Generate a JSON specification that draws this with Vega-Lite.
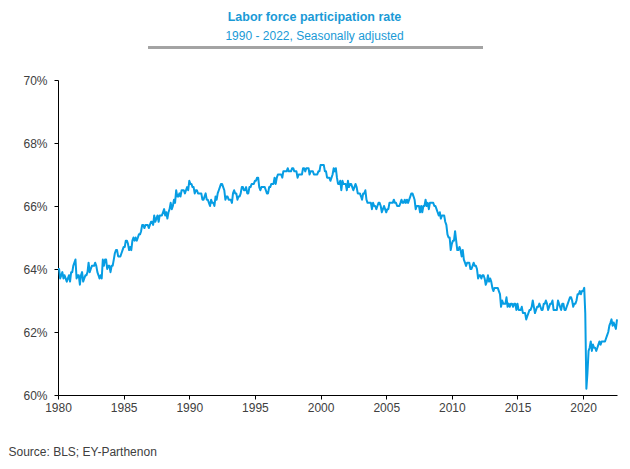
{
"$schema": "https://vega.github.io/schema/vega-lite/v6.json",
"autosize": {"type": "none"},
"width": 559,
"height": 315,
"padding": {"left": 58, "top": 80, "right": 13, "bottom": 74},
"background": "white",
"config": {"font": "Liberation Sans", "view": {"stroke": null}},
"title": {
  "text": "Labor force participation rate",
  "subtitle": "1990 - 2022, Seasonally adjusted",
  "anchor": "middle",
  "frame": "group",
  "dx": -23,
  "offset": 5,
  "fontSize": 12.5,
  "fontWeight": "bold",
  "color": "#1a9ad6",
  "subtitleFontSize": 12,
  "subtitleColor": "#1a9ad6",
  "subtitlePadding": 7
},
"data": {
  "format": {"parse": {"d": "utc:'%Y-%m'"}},
  "values": [
{"d":"1980-01","v":64.0},{"d":"1980-02","v":64.0},{"d":"1980-03","v":63.7},{"d":"1980-04","v":63.8},{"d":"1980-05","v":63.9},{"d":"1980-06","v":63.7},{"d":"1980-07","v":63.8},{"d":"1980-08","v":63.7},{"d":"1980-09","v":63.6},{"d":"1980-10","v":63.7},{"d":"1980-11","v":63.8},{"d":"1980-12","v":63.6},
{"d":"1981-01","v":63.9},{"d":"1981-02","v":63.9},{"d":"1981-03","v":64.1},{"d":"1981-04","v":64.2},{"d":"1981-05","v":64.3},{"d":"1981-06","v":63.7},{"d":"1981-07","v":63.8},{"d":"1981-08","v":63.8},{"d":"1981-09","v":63.5},{"d":"1981-10","v":63.8},{"d":"1981-11","v":63.9},{"d":"1981-12","v":63.6},
{"d":"1982-01","v":63.7},{"d":"1982-02","v":63.8},{"d":"1982-03","v":63.8},{"d":"1982-04","v":63.9},{"d":"1982-05","v":64.2},{"d":"1982-06","v":63.9},{"d":"1982-07","v":64.0},{"d":"1982-08","v":64.1},{"d":"1982-09","v":64.1},{"d":"1982-10","v":64.1},{"d":"1982-11","v":64.2},{"d":"1982-12","v":64.1},
{"d":"1983-01","v":63.9},{"d":"1983-02","v":63.8},{"d":"1983-03","v":63.7},{"d":"1983-04","v":63.8},{"d":"1983-05","v":63.7},{"d":"1983-06","v":64.3},{"d":"1983-07","v":64.1},{"d":"1983-08","v":64.3},{"d":"1983-09","v":64.3},{"d":"1983-10","v":64.0},{"d":"1983-11","v":64.1},{"d":"1983-12","v":64.1},
{"d":"1984-01","v":63.9},{"d":"1984-02","v":64.1},{"d":"1984-03","v":64.1},{"d":"1984-04","v":64.3},{"d":"1984-05","v":64.5},{"d":"1984-06","v":64.6},{"d":"1984-07","v":64.6},{"d":"1984-08","v":64.4},{"d":"1984-09","v":64.4},{"d":"1984-10","v":64.4},{"d":"1984-11","v":64.5},{"d":"1984-12","v":64.6},
{"d":"1985-01","v":64.7},{"d":"1985-02","v":64.7},{"d":"1985-03","v":64.9},{"d":"1985-04","v":64.9},{"d":"1985-05","v":64.8},{"d":"1985-06","v":64.6},{"d":"1985-07","v":64.7},{"d":"1985-08","v":64.6},{"d":"1985-09","v":64.9},{"d":"1985-10","v":65.0},{"d":"1985-11","v":64.9},{"d":"1985-12","v":65.0},
{"d":"1986-01","v":64.9},{"d":"1986-02","v":65.0},{"d":"1986-03","v":65.1},{"d":"1986-04","v":65.1},{"d":"1986-05","v":65.2},{"d":"1986-06","v":65.4},{"d":"1986-07","v":65.4},{"d":"1986-08","v":65.3},{"d":"1986-09","v":65.4},{"d":"1986-10","v":65.4},{"d":"1986-11","v":65.4},{"d":"1986-12","v":65.3},
{"d":"1987-01","v":65.4},{"d":"1987-02","v":65.5},{"d":"1987-03","v":65.5},{"d":"1987-04","v":65.4},{"d":"1987-05","v":65.7},{"d":"1987-06","v":65.5},{"d":"1987-07","v":65.6},{"d":"1987-08","v":65.7},{"d":"1987-09","v":65.5},{"d":"1987-10","v":65.7},{"d":"1987-11","v":65.7},{"d":"1987-12","v":65.7},
{"d":"1988-01","v":65.8},{"d":"1988-02","v":65.9},{"d":"1988-03","v":65.7},{"d":"1988-04","v":65.8},{"d":"1988-05","v":65.6},{"d":"1988-06","v":65.8},{"d":"1988-07","v":65.9},{"d":"1988-08","v":66.1},{"d":"1988-09","v":65.9},{"d":"1988-10","v":66.0},{"d":"1988-11","v":66.2},{"d":"1988-12","v":66.1},
{"d":"1989-01","v":66.5},{"d":"1989-02","v":66.3},{"d":"1989-03","v":66.3},{"d":"1989-04","v":66.4},{"d":"1989-05","v":66.3},{"d":"1989-06","v":66.5},{"d":"1989-07","v":66.5},{"d":"1989-08","v":66.5},{"d":"1989-09","v":66.4},{"d":"1989-10","v":66.5},{"d":"1989-11","v":66.6},{"d":"1989-12","v":66.5},
{"d":"1990-01","v":66.8},{"d":"1990-02","v":66.7},{"d":"1990-03","v":66.7},{"d":"1990-04","v":66.6},{"d":"1990-05","v":66.6},{"d":"1990-06","v":66.4},{"d":"1990-07","v":66.5},{"d":"1990-08","v":66.5},{"d":"1990-09","v":66.4},{"d":"1990-10","v":66.4},{"d":"1990-11","v":66.4},{"d":"1990-12","v":66.4},
{"d":"1991-01","v":66.2},{"d":"1991-02","v":66.2},{"d":"1991-03","v":66.3},{"d":"1991-04","v":66.4},{"d":"1991-05","v":66.2},{"d":"1991-06","v":66.2},{"d":"1991-07","v":66.1},{"d":"1991-08","v":66.0},{"d":"1991-09","v":66.2},{"d":"1991-10","v":66.1},{"d":"1991-11","v":66.1},{"d":"1991-12","v":66.0},
{"d":"1992-01","v":66.3},{"d":"1992-02","v":66.2},{"d":"1992-03","v":66.4},{"d":"1992-04","v":66.5},{"d":"1992-05","v":66.6},{"d":"1992-06","v":66.7},{"d":"1992-07","v":66.7},{"d":"1992-08","v":66.6},{"d":"1992-09","v":66.5},{"d":"1992-10","v":66.2},{"d":"1992-11","v":66.3},{"d":"1992-12","v":66.3},
{"d":"1993-01","v":66.2},{"d":"1993-02","v":66.2},{"d":"1993-03","v":66.2},{"d":"1993-04","v":66.1},{"d":"1993-05","v":66.4},{"d":"1993-06","v":66.5},{"d":"1993-07","v":66.4},{"d":"1993-08","v":66.4},{"d":"1993-09","v":66.2},{"d":"1993-10","v":66.3},{"d":"1993-11","v":66.3},{"d":"1993-12","v":66.4},
{"d":"1994-01","v":66.6},{"d":"1994-02","v":66.6},{"d":"1994-03","v":66.5},{"d":"1994-04","v":66.5},{"d":"1994-05","v":66.6},{"d":"1994-06","v":66.4},{"d":"1994-07","v":66.4},{"d":"1994-08","v":66.6},{"d":"1994-09","v":66.6},{"d":"1994-10","v":66.7},{"d":"1994-11","v":66.7},{"d":"1994-12","v":66.7},
{"d":"1995-01","v":66.8},{"d":"1995-02","v":66.8},{"d":"1995-03","v":66.9},{"d":"1995-04","v":66.9},{"d":"1995-05","v":66.6},{"d":"1995-06","v":66.5},{"d":"1995-07","v":66.6},{"d":"1995-08","v":66.6},{"d":"1995-09","v":66.6},{"d":"1995-10","v":66.6},{"d":"1995-11","v":66.5},{"d":"1995-12","v":66.4},
{"d":"1996-01","v":66.4},{"d":"1996-02","v":66.6},{"d":"1996-03","v":66.6},{"d":"1996-04","v":66.7},{"d":"1996-05","v":66.7},{"d":"1996-06","v":66.7},{"d":"1996-07","v":66.9},{"d":"1996-08","v":66.7},{"d":"1996-09","v":66.9},{"d":"1996-10","v":67.0},{"d":"1996-11","v":67.0},{"d":"1996-12","v":67.0},
{"d":"1997-01","v":67.0},{"d":"1997-02","v":66.9},{"d":"1997-03","v":67.1},{"d":"1997-04","v":67.1},{"d":"1997-05","v":67.1},{"d":"1997-06","v":67.1},{"d":"1997-07","v":67.2},{"d":"1997-08","v":67.1},{"d":"1997-09","v":67.1},{"d":"1997-10","v":67.1},{"d":"1997-11","v":67.2},{"d":"1997-12","v":67.2},
{"d":"1998-01","v":67.1},{"d":"1998-02","v":67.1},{"d":"1998-03","v":67.1},{"d":"1998-04","v":66.9},{"d":"1998-05","v":67.0},{"d":"1998-06","v":67.0},{"d":"1998-07","v":67.0},{"d":"1998-08","v":67.0},{"d":"1998-09","v":67.2},{"d":"1998-10","v":67.2},{"d":"1998-11","v":67.1},{"d":"1998-12","v":67.2},
{"d":"1999-01","v":67.2},{"d":"1999-02","v":67.2},{"d":"1999-03","v":67.0},{"d":"1999-04","v":67.1},{"d":"1999-05","v":67.1},{"d":"1999-06","v":67.1},{"d":"1999-07","v":67.0},{"d":"1999-08","v":67.0},{"d":"1999-09","v":67.0},{"d":"1999-10","v":67.0},{"d":"1999-11","v":67.1},{"d":"1999-12","v":67.1},
{"d":"2000-01","v":67.3},{"d":"2000-02","v":67.3},{"d":"2000-03","v":67.3},{"d":"2000-04","v":67.3},{"d":"2000-05","v":67.1},{"d":"2000-06","v":67.1},{"d":"2000-07","v":66.9},{"d":"2000-08","v":66.9},{"d":"2000-09","v":66.9},{"d":"2000-10","v":66.8},{"d":"2000-11","v":66.9},{"d":"2000-12","v":67.0},
{"d":"2001-01","v":67.2},{"d":"2001-02","v":67.1},{"d":"2001-03","v":67.2},{"d":"2001-04","v":66.9},{"d":"2001-05","v":66.7},{"d":"2001-06","v":66.7},{"d":"2001-07","v":66.8},{"d":"2001-08","v":66.5},{"d":"2001-09","v":66.8},{"d":"2001-10","v":66.7},{"d":"2001-11","v":66.7},{"d":"2001-12","v":66.7},
{"d":"2002-01","v":66.5},{"d":"2002-02","v":66.8},{"d":"2002-03","v":66.6},{"d":"2002-04","v":66.7},{"d":"2002-05","v":66.7},{"d":"2002-06","v":66.6},{"d":"2002-07","v":66.5},{"d":"2002-08","v":66.6},{"d":"2002-09","v":66.7},{"d":"2002-10","v":66.6},{"d":"2002-11","v":66.4},{"d":"2002-12","v":66.4},
{"d":"2003-01","v":66.4},{"d":"2003-02","v":66.3},{"d":"2003-03","v":66.2},{"d":"2003-04","v":66.4},{"d":"2003-05","v":66.4},{"d":"2003-06","v":66.5},{"d":"2003-07","v":66.2},{"d":"2003-08","v":66.1},{"d":"2003-09","v":66.1},{"d":"2003-10","v":66.1},{"d":"2003-11","v":66.1},{"d":"2003-12","v":65.9},
{"d":"2004-01","v":66.1},{"d":"2004-02","v":66.0},{"d":"2004-03","v":66.0},{"d":"2004-04","v":65.9},{"d":"2004-05","v":66.0},{"d":"2004-06","v":66.1},{"d":"2004-07","v":66.1},{"d":"2004-08","v":66.0},{"d":"2004-09","v":65.8},{"d":"2004-10","v":65.9},{"d":"2004-11","v":66.0},{"d":"2004-12","v":65.9},
{"d":"2005-01","v":65.8},{"d":"2005-02","v":65.9},{"d":"2005-03","v":65.9},{"d":"2005-04","v":66.1},{"d":"2005-05","v":66.1},{"d":"2005-06","v":66.1},{"d":"2005-07","v":66.1},{"d":"2005-08","v":66.2},{"d":"2005-09","v":66.1},{"d":"2005-10","v":66.1},{"d":"2005-11","v":66.0},{"d":"2005-12","v":66.0},
{"d":"2006-01","v":66.0},{"d":"2006-02","v":66.1},{"d":"2006-03","v":66.2},{"d":"2006-04","v":66.1},{"d":"2006-05","v":66.1},{"d":"2006-06","v":66.2},{"d":"2006-07","v":66.1},{"d":"2006-08","v":66.2},{"d":"2006-09","v":66.1},{"d":"2006-10","v":66.2},{"d":"2006-11","v":66.3},{"d":"2006-12","v":66.4},
{"d":"2007-01","v":66.4},{"d":"2007-02","v":66.3},{"d":"2007-03","v":66.2},{"d":"2007-04","v":65.9},{"d":"2007-05","v":66.0},{"d":"2007-06","v":66.0},{"d":"2007-07","v":66.0},{"d":"2007-08","v":65.8},{"d":"2007-09","v":66.0},{"d":"2007-10","v":65.8},{"d":"2007-11","v":66.0},{"d":"2007-12","v":66.0},
{"d":"2008-01","v":66.2},{"d":"2008-02","v":66.0},{"d":"2008-03","v":66.1},{"d":"2008-04","v":65.9},{"d":"2008-05","v":66.1},{"d":"2008-06","v":66.1},{"d":"2008-07","v":66.1},{"d":"2008-08","v":66.1},{"d":"2008-09","v":66.0},{"d":"2008-10","v":66.0},{"d":"2008-11","v":65.9},{"d":"2008-12","v":65.8},
{"d":"2009-01","v":65.7},{"d":"2009-02","v":65.8},{"d":"2009-03","v":65.6},{"d":"2009-04","v":65.7},{"d":"2009-05","v":65.7},{"d":"2009-06","v":65.7},{"d":"2009-07","v":65.5},{"d":"2009-08","v":65.4},{"d":"2009-09","v":65.1},{"d":"2009-10","v":65.0},{"d":"2009-11","v":65.0},{"d":"2009-12","v":64.6},
{"d":"2010-01","v":64.8},{"d":"2010-02","v":64.9},{"d":"2010-03","v":64.9},{"d":"2010-04","v":65.2},{"d":"2010-05","v":64.9},{"d":"2010-06","v":64.6},{"d":"2010-07","v":64.6},{"d":"2010-08","v":64.7},{"d":"2010-09","v":64.6},{"d":"2010-10","v":64.4},{"d":"2010-11","v":64.6},{"d":"2010-12","v":64.3},
{"d":"2011-01","v":64.2},{"d":"2011-02","v":64.1},{"d":"2011-03","v":64.2},{"d":"2011-04","v":64.2},{"d":"2011-05","v":64.2},{"d":"2011-06","v":64.0},{"d":"2011-07","v":64.0},{"d":"2011-08","v":64.1},{"d":"2011-09","v":64.2},{"d":"2011-10","v":64.1},{"d":"2011-11","v":64.1},{"d":"2011-12","v":64.0},
{"d":"2012-01","v":63.7},{"d":"2012-02","v":63.8},{"d":"2012-03","v":63.8},{"d":"2012-04","v":63.7},{"d":"2012-05","v":63.8},{"d":"2012-06","v":63.8},{"d":"2012-07","v":63.7},{"d":"2012-08","v":63.5},{"d":"2012-09","v":63.6},{"d":"2012-10","v":63.8},{"d":"2012-11","v":63.6},{"d":"2012-12","v":63.7},
{"d":"2013-01","v":63.6},{"d":"2013-02","v":63.4},{"d":"2013-03","v":63.3},{"d":"2013-04","v":63.4},{"d":"2013-05","v":63.4},{"d":"2013-06","v":63.4},{"d":"2013-07","v":63.4},{"d":"2013-08","v":63.3},{"d":"2013-09","v":63.2},{"d":"2013-10","v":62.8},{"d":"2013-11","v":63.0},{"d":"2013-12","v":62.9},
{"d":"2014-01","v":62.9},{"d":"2014-02","v":62.9},{"d":"2014-03","v":63.1},{"d":"2014-04","v":62.8},{"d":"2014-05","v":62.9},{"d":"2014-06","v":62.8},{"d":"2014-07","v":62.9},{"d":"2014-08","v":62.9},{"d":"2014-09","v":62.8},{"d":"2014-10","v":62.9},{"d":"2014-11","v":62.9},{"d":"2014-12","v":62.7},
{"d":"2015-01","v":62.9},{"d":"2015-02","v":62.7},{"d":"2015-03","v":62.7},{"d":"2015-04","v":62.7},{"d":"2015-05","v":62.8},{"d":"2015-06","v":62.6},{"d":"2015-07","v":62.6},{"d":"2015-08","v":62.6},{"d":"2015-09","v":62.4},{"d":"2015-10","v":62.5},{"d":"2015-11","v":62.6},{"d":"2015-12","v":62.7},
{"d":"2016-01","v":62.7},{"d":"2016-02","v":62.8},{"d":"2016-03","v":63.0},{"d":"2016-04","v":62.8},{"d":"2016-05","v":62.6},{"d":"2016-06","v":62.7},{"d":"2016-07","v":62.8},{"d":"2016-08","v":62.8},{"d":"2016-09","v":62.9},{"d":"2016-10","v":62.8},{"d":"2016-11","v":62.7},{"d":"2016-12","v":62.7},
{"d":"2017-01","v":62.9},{"d":"2017-02","v":62.9},{"d":"2017-03","v":63.0},{"d":"2017-04","v":62.9},{"d":"2017-05","v":62.7},{"d":"2017-06","v":62.8},{"d":"2017-07","v":62.9},{"d":"2017-08","v":62.9},{"d":"2017-09","v":63.0},{"d":"2017-10","v":62.7},{"d":"2017-11","v":62.7},{"d":"2017-12","v":62.7},
{"d":"2018-01","v":62.7},{"d":"2018-02","v":63.0},{"d":"2018-03","v":62.9},{"d":"2018-04","v":62.8},{"d":"2018-05","v":62.7},{"d":"2018-06","v":62.9},{"d":"2018-07","v":62.9},{"d":"2018-08","v":62.7},{"d":"2018-09","v":62.7},{"d":"2018-10","v":62.8},{"d":"2018-11","v":62.9},{"d":"2018-12","v":63.0},
{"d":"2019-01","v":63.1},{"d":"2019-02","v":63.1},{"d":"2019-03","v":63.0},{"d":"2019-04","v":62.8},{"d":"2019-05","v":62.9},{"d":"2019-06","v":62.9},{"d":"2019-07","v":63.0},{"d":"2019-08","v":63.2},{"d":"2019-09","v":63.2},{"d":"2019-10","v":63.3},{"d":"2019-11","v":63.2},{"d":"2019-12","v":63.3},
{"d":"2020-01","v":63.3},{"d":"2020-02","v":63.4},{"d":"2020-03","v":62.6},{"d":"2020-04","v":60.2},{"d":"2020-05","v":60.7},{"d":"2020-06","v":61.4},{"d":"2020-07","v":61.5},{"d":"2020-08","v":61.7},{"d":"2020-09","v":61.4},{"d":"2020-10","v":61.6},{"d":"2020-11","v":61.5},{"d":"2020-12","v":61.5},
{"d":"2021-01","v":61.4},{"d":"2021-02","v":61.5},{"d":"2021-03","v":61.6},{"d":"2021-04","v":61.7},{"d":"2021-05","v":61.6},{"d":"2021-06","v":61.7},{"d":"2021-07","v":61.7},{"d":"2021-08","v":61.7},{"d":"2021-09","v":61.7},{"d":"2021-10","v":61.8},{"d":"2021-11","v":61.9},{"d":"2021-12","v":62.0},
{"d":"2022-01","v":62.2},{"d":"2022-02","v":62.3},{"d":"2022-03","v":62.4},{"d":"2022-04","v":62.2},{"d":"2022-05","v":62.3},{"d":"2022-06","v":62.2},{"d":"2022-07","v":62.1},{"d":"2022-08","v":62.4}
  ]
},
"layer": [
  {
    "mark": {"type": "line", "color": "#079de3", "strokeWidth": 2, "strokeJoin": "round"},
    "encoding": {
      "x": {
        "field": "d", "type": "temporal",
        "scale": {"type": "utc", "domain": [{"year": 1980, "month": 1, "date": 1, "utc": true}, {"year": 2022, "month": 8, "date": 1, "utc": true}]},
        "axis": {
          "values": [{"year": 1980, "utc": true}, {"year": 1985, "utc": true}, {"year": 1990, "utc": true}, {"year": 1995, "utc": true}, {"year": 2000, "utc": true}, {"year": 2005, "utc": true}, {"year": 2010, "utc": true}, {"year": 2015, "utc": true}, {"year": 2020, "utc": true}],
          "format": "%Y", "formatType": "utc",
          "grid": false,
          "domainColor": "#000000", "domainWidth": 1,
          "tickColor": "#000000", "tickSize": 4,
          "labelFontSize": 12, "labelColor": "#404040", "labelPadding": 3,
          "labelFlush": false,
          "title": "Source: BLS; EY-Parthenon",
          "titleX": -50, "titleY": 56,
          "titleAlign": "left", "titleAnchor": "start", "titleBaseline": "middle",
          "titleFontSize": 12, "titleFontWeight": "normal", "titleColor": "#404040"
        }
      },
      "y": {
        "field": "v", "type": "quantitative",
        "scale": {"domain": [60, 70], "nice": false, "zero": false},
        "axis": {
          "values": [60, 62, 64, 66, 68, 70],
          "labelExpr": "format(datum.value, 'd') + '%'",
          "grid": false,
          "domainColor": "#000000", "domainWidth": 1,
          "tickColor": "#000000", "tickSize": 4,
          "labelFontSize": 12, "labelColor": "#404040", "labelPadding": 7,
          "title": null
        }
      }
    }
  },
  {
    "mark": {"type": "rule", "color": "#a3a3a3", "strokeWidth": 1.5},
    "encoding": {
      "x": {"datum": {"year": 1986, "month": 11, "date": 28, "utc": true}, "type": "temporal"},
      "x2": {"datum": {"year": 2012, "month": 5, "date": 8, "utc": true}},
      "y": {"datum": 71.03, "type": "quantitative"}
    }
  }
]
}
